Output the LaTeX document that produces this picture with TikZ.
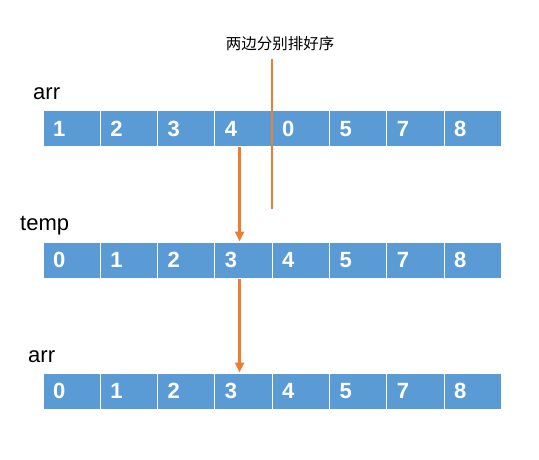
\documentclass[tikz,border=0pt]{standalone}
\usepackage{fontspec}
\setmainfont{Liberation Sans}
\newfontfamily\cjk{Noto Sans CJK SC}
\usetikzlibrary{arrows.meta}
\definecolor{cellblue}{HTML}{5B9BD5}
\definecolor{markorange}{HTML}{ED7D31}
\tikzset{>={Triangle[length=10pt,width=9pt]}, % the arrow heads
	cell/.style={draw=white, line width=1pt, fill=cellblue, text=white,
		minimum height=36pt, text width=37.3pt, inner xsep=10pt, align=left,
		font=\bfseries\fontsize{22}{22}\selectfont}, % one box of an array
	arraylabel/.style={inner sep=0pt, anchor=base west, font=\fontsize{22}{22}\selectfont}, % array names
	orangeline/.style={draw=markorange, line width=2.6pt}, % the orange lines
}

\begin{document}
\begin{tikzpicture}[x=1pt, y=1pt]
	\useasboundingbox (0,0) rectangle (539,459);
	% the array before merging
	\node[arraylabel] (arrname) at (33,359) {arr};
	\foreach \v [count=\i] in {1,2,3,4,0,5,7,8}
		\node[cell] (a\i) at (14.35+57.3*\i,330) {\v};
	% the temp array
	\node[arraylabel] (tempname) at (20,229) {temp};
	\foreach \v [count=\i] in {0,1,2,3,4,5,7,8}
		\node[cell] (t\i) at (14.35+57.3*\i,199) {\v};
	% the array after copying back
	\node[arraylabel] (resname) at (28,97) {arr};
	\foreach \v [count=\i] in {0,1,2,3,4,5,7,8}
		\node[cell] (r\i) at (14.35+57.3*\i,68) {\v};

	%% both halves are sorted
	\node[font=\cjk\fontsize{15.5}{15.5}\selectfont] (note) at (280,415.5) {两边分别排好序};
	\coordinate (cuttop) at (272,400);
	\coordinate (cutbottom) at (272,250);
	\draw[orangeline] (cuttop) -- (cutbottom);

	%% merge into temp, then copy back
	\draw[orangeline, ->] ([xshift=-4pt]a4.south) -- ([xshift=-4pt]t4.north);
	\draw[orangeline, ->] ([xshift=-4pt]t4.south) -- ([xshift=-4pt]r4.north);
\end{tikzpicture}
\end{document}
